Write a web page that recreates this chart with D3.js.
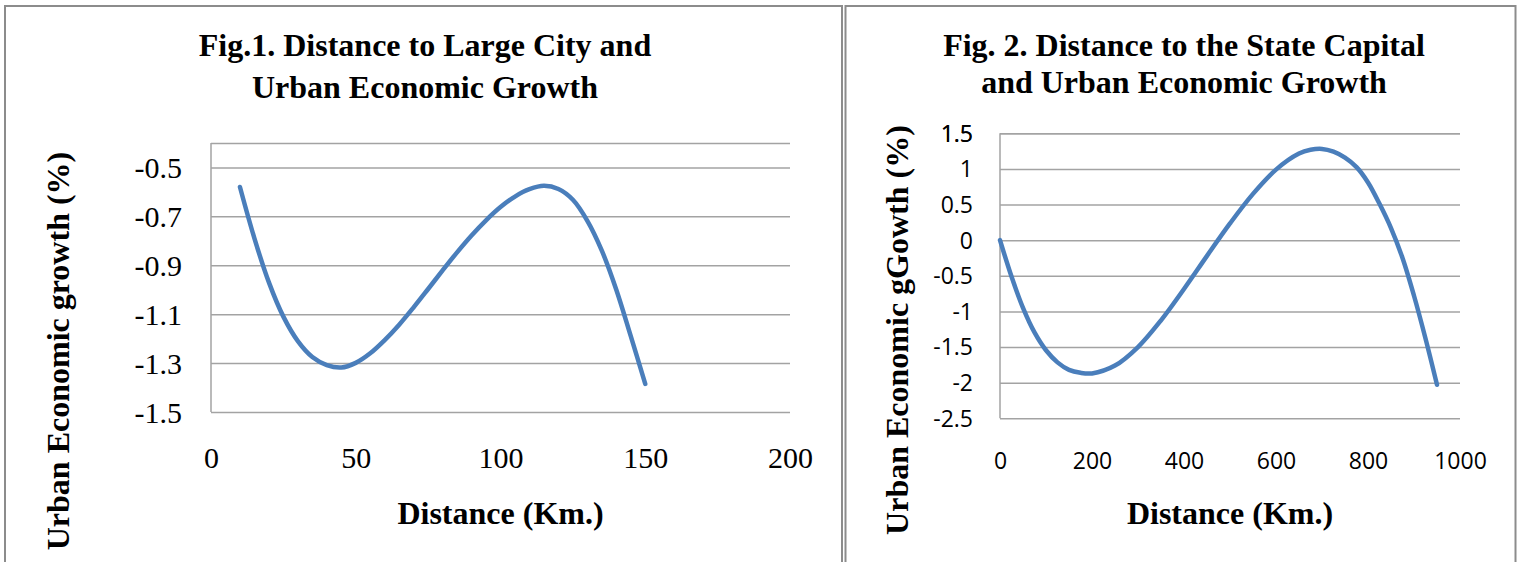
<!DOCTYPE html>
<html>
<head>
<meta charset="utf-8">
<script src="https://cdn.jsdelivr.net/npm/d3@7"></script>
<style>
  body { margin: 0; background: #fff; }
  svg { display: block; }
</style>
</head>
<body>
<script>
// Fig.1 - distance to large city (km) vs urban economic growth (%)
var fig1Distance = [10, 15, 20, 25, 30, 35, 40, 45, 50, 55, 60, 65, 70, 75, 80,
  85, 90, 95, 100, 105, 110, 115, 120, 125, 130, 135, 140, 145, 150];
var fig1Growth = [-0.58, -0.79, -0.97, -1.11, -1.21, -1.275, -1.308, -1.318, -1.299,
  -1.26, -1.206, -1.143, -1.072, -0.997, -0.921, -0.847, -0.778, -0.716, -0.662,
  -0.619, -0.589, -0.575, -0.588, -0.632, -0.718, -0.84, -1.0, -1.19, -1.385];
var fig1XTicks = [0, 50, 100, 150, 200];
var fig1YTicks = [-1.5, -1.3, -1.1, -0.9, -0.7, -0.5];

// Fig.2 - distance to the state capital (km) vs urban economic growth (%)
var fig2Distance = [0, 25, 50, 75, 100, 125, 150, 175, 200, 250, 300, 350, 400, 450,
  500, 550, 600, 650, 675, 700, 725, 750, 775, 800, 825, 850, 875, 900, 925, 950];
var fig2Growth = [0, -0.51, -0.95, -1.295, -1.545, -1.715, -1.82, -1.862, -1.87,
  -1.76, -1.50, -1.125, -0.685, -0.22, 0.235, 0.65, 0.99, 1.215, 1.268, 1.281, 1.242,
  1.158, 1.025, 0.81, 0.51, 0.17, -0.25, -0.78, -1.38, -2.03];
var fig2XTicks = [0, 200, 400, 600, 800, 1000];
var fig2YTicks = [-2.5, -2, -1.5, -1, -0.5, 0, 0.5, 1, 1.5];

var svg = d3.select("body").append("svg")
  .attr("width", 1522).attr("height", 562);

var serif = "'Liberation Serif', 'Times New Roman', serif";
var sans = "'Open Sans', 'Liberation Sans', sans-serif";

// panel frames
svg.append("rect").attr("x", 5).attr("y", 6).attr("width", 837).attr("height", 600)
  .attr("fill", "none").attr("stroke", "#8c8c8c").attr("stroke-width", 2);
svg.append("rect").attr("x", 845.5).attr("y", 6).attr("width", 670).attr("height", 600)
  .attr("fill", "none").attr("stroke", "#8c8c8c").attr("stroke-width", 2);

function drawPanel(o) {
  var x = d3.scaleLinear().domain(o.xDomain).range([o.left, o.right]);
  var y = d3.scaleLinear().domain(o.yDomain).range([o.bottom, o.top]);
  var g = svg.append("g");

  // gridlines + y labels
  var yAxis = g.append("g").attr("transform", "translate(" + o.left + ",0)")
    .call(d3.axisLeft(y).tickValues(o.yTicks.concat([o.yDomain[1]]))
      .tickSize(-(o.right - o.left)).tickPadding(o.yPad)
      .tickFormat(function(d) { return o.yTicks.indexOf(d) < 0 ? "" : String(d); }));
  yAxis.select(".domain").remove();
  yAxis.selectAll("line").attr("stroke", "#a3a3a3").attr("stroke-width", 1.5);
  yAxis.selectAll("text").attr("dy", "0.34em")
    .style("font-family", o.tickFont).style("font-size", o.tickSize + "px").attr("fill", "#000");

  // vertical axis line
  g.append("line").attr("x1", o.left).attr("x2", o.left)
    .attr("y1", y.range()[1]).attr("y2", y.range()[0])
    .attr("stroke", "#a3a3a3").attr("stroke-width", 1.5);

  // x labels
  var xAxis = g.append("g").attr("transform", "translate(0," + o.bottom + ")")
    .call(d3.axisBottom(x).tickValues(o.xTicks).tickSize(0).tickFormat(String));
  xAxis.select(".domain").remove();
  xAxis.selectAll("text").attr("y", o.xLabelY - o.bottom).attr("dy", 0)
    .style("font-family", o.tickFont).style("font-size", o.tickSize + "px").attr("fill", "#000");

  // curve
  var pts = o.xs.map(function(d, i) { return [d, o.ys[i]]; });
  g.append("path").datum(pts)
    .attr("fill", "none").attr("stroke", "#4a7ebb").attr("stroke-width", 4.5)
    .attr("stroke-linecap", "round").attr("stroke-linejoin", "round")
    .attr("d", d3.line().curve(d3.curveCatmullRom.alpha(0.5))
      .x(function(d) { return x(d[0]); }).y(function(d) { return y(d[1]); }));

  // titles
  var t = g.append("text").attr("text-anchor", "middle")
    .style("font-family", serif).style("font-weight", "bold").style("font-size", "32px");
  t.append("tspan").attr("x", o.titleX).attr("y", o.titleY[0]).text(o.title[0]);
  t.append("tspan").attr("x", o.titleX).attr("y", o.titleY[1]).text(o.title[1]);

  g.append("text").attr("text-anchor", "middle")
    .attr("transform", "translate(" + o.yTitleX + "," + o.yTitleY + ") rotate(-90)")
    .style("font-family", serif).style("font-weight", "bold").style("font-size", "32px")
    .text(o.yTitle);

  g.append("text").attr("text-anchor", "middle")
    .attr("x", (o.left + o.right) / 2).attr("y", 524)
    .style("font-family", serif).style("font-weight", "bold").style("font-size", "32px")
    .text("Distance (Km.)");
}

drawPanel({
  xs: fig1Distance, ys: fig1Growth, xTicks: fig1XTicks, yTicks: fig1YTicks,
  xDomain: [0, 200], yDomain: [-1.5, -0.4],
  left: 211, right: 790, top: 143, bottom: 412,
  yPad: 29, xLabelY: 468, tickFont: serif, tickSize: 30,
  title: ["Fig.1. Distance to Large City and", "Urban Economic Growth"],
  titleX: 425, titleY: [56, 98],
  yTitle: "Urban Economic growth (%)", yTitleX: 68.5, yTitleY: 351
});

drawPanel({
  xs: fig2Distance, ys: fig2Growth, xTicks: fig2XTicks, yTicks: fig2YTicks,
  xDomain: [0, 1000], yDomain: [-2.5, 1.5],
  left: 1000, right: 1460, top: 133.3, bottom: 418.3,
  yPad: 27, xLabelY: 469, tickFont: sans, tickSize: 23,
  title: ["Fig. 2. Distance to the State Capital", "and Urban Economic Growth"],
  titleX: 1184, titleY: [56, 93],
  yTitle: "Urban Economic gGowth (%)", yTitleX: 907.5, yTitleY: 330
});
</script>
</body>
</html>
